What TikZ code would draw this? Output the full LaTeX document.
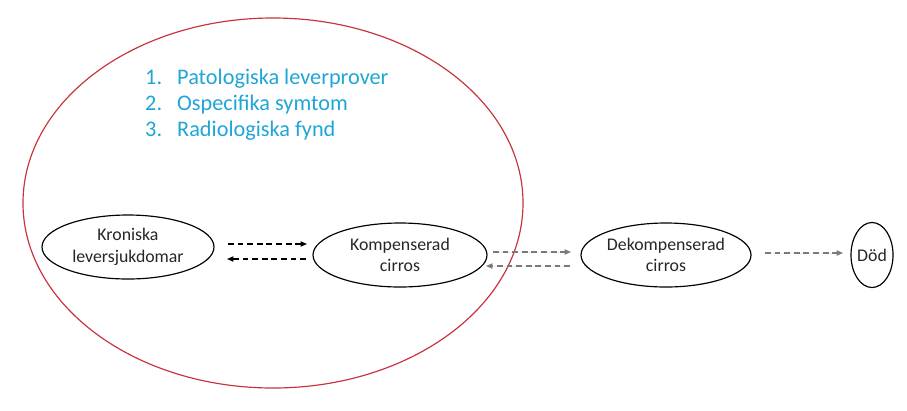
\documentclass[tikz,border=0pt]{standalone}
\usepackage{fontspec}
\setmainfont{Carlito}
\usetikzlibrary{shapes.geometric,arrows.meta}
\definecolor{redline}{HTML}{C8323A}
\definecolor{listblue}{HTML}{1FA5D6}
\definecolor{grayarrow}{HTML}{7A7A7A}
\tikzset{
  stage/.style={draw=black, line width=1pt, ellipse, inner sep=0pt, align=center,
    text=black!85, font=\fontsize{15.2}{18.5}\selectfont},
  flow/.style={dashed, dash pattern=on 5pt off 3.2pt, line width=1pt,
    -{Triangle[length=5.5pt,width=4.5pt]}},
  listtxt/.style={anchor=base west, inner sep=0pt, text=listblue, font=\fontsize{19}{22}\selectfont}
}
\begin{document}
\begin{tikzpicture}[x=0.03cm,y=-0.03cm]
\useasboundingbox (0,0) rectangle (907,410);
% big red ellipse
\draw[redline, line width=1pt] (273,203) ellipse [x radius=250, y radius=185];
% list
\node[listtxt] (n1) at (145,84) {1.};
\node[listtxt] (t1) at (177,84) {Patologiska leverprover};
\node[listtxt] (n2) at (145,110) {2.};
\node[listtxt] (t2) at (177,110) {Ospecifika symtom};
\node[listtxt] (n3) at (145,136) {3.};
\node[listtxt] (t3) at (177,136) {Radiologiska fynd};
% stages
\node[stage, minimum width=172*0.03cm, minimum height=64*0.03cm] (kron) at (128,247) {Kroniska\\leversjukdomar};
\node[stage, minimum width=174*0.03cm, minimum height=64*0.03cm] (komp) at (400,255) {Kompenserad\\cirros};
\node[stage, minimum width=170*0.03cm, minimum height=64*0.03cm] (dekomp) at (666,255) {Dekompenserad\\cirros};
\node[stage, minimum width=42*0.03cm, minimum height=65*0.03cm] (dod) at (872,255) {Död};
% arrow endpoints
\coordinate (a1s) at (228,244); \coordinate (a1e) at (307,244);
\coordinate (a2s) at (306,259); \coordinate (a2e) at (227,259);
\coordinate (b1s) at (493,252); \coordinate (b1e) at (571,252);
\coordinate (b2s) at (570,266); \coordinate (b2e) at (486,266);
\coordinate (c1s) at (765,253); \coordinate (c1e) at (843,253);
\draw[flow] (a1s) -- (a1e);
\draw[flow] (a2s) -- (a2e);
\draw[flow, draw=grayarrow, fill=grayarrow] (b1s) -- (b1e);
\draw[flow, draw=grayarrow, fill=grayarrow] (b2s) -- (b2e);
\draw[flow, draw=grayarrow, fill=grayarrow] (c1s) -- (c1e);
\end{tikzpicture}
\end{document}
